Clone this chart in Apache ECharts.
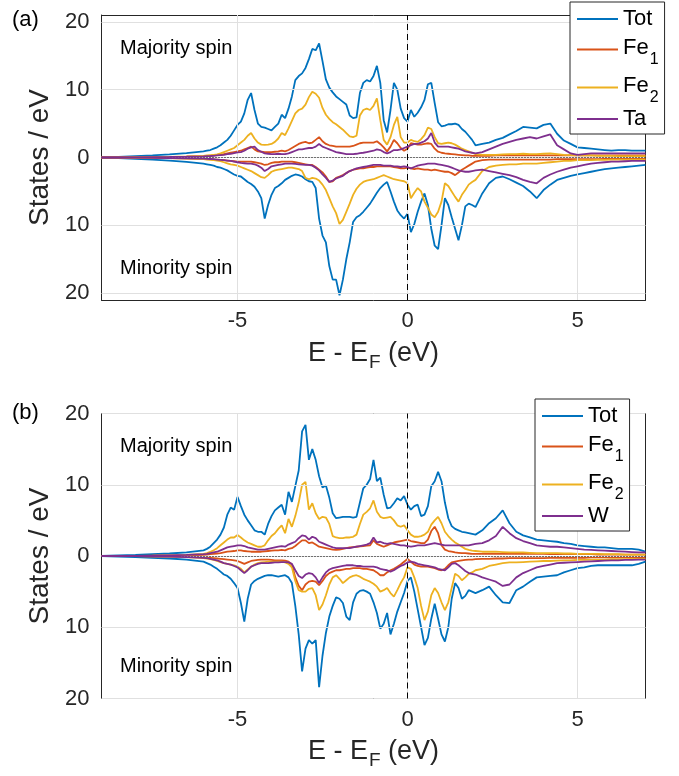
<!DOCTYPE html>
<html><head><meta charset="utf-8">
<script src="https://cdn.jsdelivr.net/npm/echarts@6/dist/echarts.min.js"></script>
<style>html,body{margin:0;padding:0;background:#fff}#c{width:679px;height:776px}</style>
</head><body><div id="c"></div>
<script>
// Energy grid (eV, relative to Fermi level)
const energy = [-9,-8.5,-8,-7.5,-7,-6.5,-6,
-5.9,-5.8,-5.7,-5.6,-5.5,-5.4,-5.3,-5.2,-5.1,-5.0,
-4.9,-4.8,-4.7,-4.6,-4.5,-4.4,-4.3,-4.2,-4.1,-4.0,
-3.9,-3.8,-3.7,-3.6,-3.5,-3.4,-3.3,-3.2,-3.1,-3.0,
-2.9,-2.8,-2.7,-2.6,-2.5,-2.4,-2.3,-2.2,-2.1,-2.0,
-1.9,-1.8,-1.7,-1.6,-1.5,-1.4,-1.3,-1.2,-1.1,-1.0,
-0.9,-0.8,-0.7,-0.6,-0.5,-0.4,-0.3,-0.2,-0.1,0.0,
0.1,0.2,0.3,0.4,0.5,0.6,0.7,0.8,0.9,1.0,
1.1,1.2,1.3,1.4,1.5,1.6,1.7,1.8,1.9,2.0,
2.2,2.4,2.6,2.8,3.0,3.2,3.4,3.6,3.8,4.0,4.2,4.4,4.6,4.8,5.0,5.2,5.4,5.6,5.8,6.0,6.2,6.4,6.6,6.8,7.0];
const xTicks = [-5, 0, 5];
const yTicks = [-20, -10, 0, 10, 20];

// ---- Panel (a): Fe-Fe-Ta ----
const aTotUp = [0,0.1,0.2,0.3,0.45,0.65,0.9,
1.0,1.1,1.3,1.5,1.8,2.2,2.6,3.2,4.0,4.8,
5.3,6.5,8.5,9.5,7.0,5.0,4.5,4.4,4.2,4.0,
4.5,5.0,6.3,5.8,7.2,9.0,11.4,12.0,12.4,13.2,
14.5,16.0,15.8,16.8,14.2,11.5,10.3,9.6,9.0,8.6,
8.2,7.8,6.2,5.8,5.9,9.5,11.0,11.4,11.2,12.0,
13.5,11.0,5.5,3.7,7.0,11.0,10.0,7.2,5.8,5.3,
7.0,6.0,6.6,7.4,8.5,10.8,11.0,8.0,5.2,4.6,
4.7,4.9,4.9,5.0,4.8,4.2,3.8,3.2,2.6,1.8,
2.0,2.2,2.6,2.9,3.4,3.9,4.5,4.4,4.3,4.8,5.0,3.5,2.5,2.0,1.5,1.4,1.3,1.2,1.1,1.0,1.1,1.1,1.0,1.0,1.0];
const aFe1Up = [0,0,0.02,0.05,0.08,0.12,0.2,
0.22,0.25,0.3,0.35,0.4,0.5,0.6,0.7,0.8,0.9,
1.0,1.2,1.4,1.6,1.2,0.9,0.85,0.8,0.8,0.8,
0.85,0.9,1.0,0.9,1.1,1.4,1.7,2.0,2.2,2.3,
2.1,2.2,2.6,3.0,2.4,2.0,1.8,1.7,1.6,1.6,
1.6,1.6,1.6,1.7,1.9,2.1,2.2,2.2,2.2,2.2,
2.4,2.0,1.5,0.9,1.6,2.6,2.1,1.4,1.0,1.3,
2.1,2.0,1.9,1.9,2.0,2.1,2.0,1.3,0.85,0.7,
0.6,0.55,0.5,0.45,0.4,0.35,0.3,0.3,0.25,0.25,
0.25,0.25,0.3,0.3,0.3,0.3,0.3,0.3,0.3,0.3,0.3,0.3,0.3,0.3,0.3,0.3,0.3,0.3,0.3,0.3,0.3,0.3,0.3,0.3,0.3];
const aFe2Up = [0,0,0.05,0.05,0.1,0.15,0.25,
0.3,0.35,0.4,0.45,0.6,0.8,1.0,1.2,1.4,1.8,
2.2,2.6,3.2,3.6,2.8,2.2,1.9,1.85,1.9,2.0,
2.3,2.8,3.6,3.3,4.3,5.4,6.5,7.0,7.2,7.8,
8.9,9.7,9.4,8.8,7.3,6.3,5.7,5.2,4.9,4.5,
4.1,3.6,3.1,3.0,3.2,6.2,7.0,7.2,7.0,7.6,
8.7,5.5,2.6,1.9,3.0,4.8,6.0,3.0,2.2,2.2,
2.6,2.4,2.3,2.7,3.3,4.4,4.2,3.0,2.1,2.0,
2.1,2.2,2.1,1.9,1.6,1.3,1.1,0.9,0.7,0.5,
0.4,0.4,0.4,0.45,0.5,0.5,0.55,0.5,0.5,0.55,0.6,0.5,0.4,0.35,0.3,0.3,0.3,0.25,0.25,0.25,0.2,0.2,0.2,0.2,0.2];
const aTaUp = [0,0,0.02,0.05,0.08,0.12,0.18,
0.2,0.22,0.25,0.3,0.35,0.4,0.5,0.55,0.65,0.75,
0.8,1.0,1.3,1.5,1.6,1.1,0.85,0.6,0.55,0.5,
0.5,0.55,0.5,0.5,0.6,0.8,1.0,1.2,1.2,1.3,
1.4,1.4,1.6,2.0,1.6,1.4,1.2,1.0,0.8,0.7,
0.6,0.5,0.5,0.5,0.55,0.65,0.7,0.8,0.9,1.0,
1.2,1.1,0.8,0.6,0.8,1.1,1.1,1.2,1.4,1.6,
1.8,2.0,2.0,2.2,2.4,2.8,3.6,2.2,1.6,1.6,
1.6,1.6,1.5,1.4,1.3,1.1,0.9,0.8,0.7,0.6,
0.8,1.2,1.6,2.0,2.3,2.6,2.8,3.0,2.8,3.1,3.4,1.8,1.2,0.6,0.4,0.5,0.6,0.6,0.6,0.6,0.6,0.6,0.6,0.6,0.6];
const aTotDn = [0,0.1,0.2,0.3,0.45,0.65,0.9,
1.0,1.1,1.2,1.4,1.5,1.7,1.9,2.2,2.5,2.7,
2.8,3.2,3.6,3.9,4.3,5.0,6.0,9.0,7.0,5.5,
4.5,4.2,3.8,3.3,3.0,2.7,2.5,2.6,2.8,3.2,
3.5,3.6,4.5,9.0,11.5,12.5,16.0,18.0,18.0,20.3,
18.0,15.0,12.5,9.5,8.8,8.5,8.0,7.4,6.8,6.0,
5.2,4.5,4.0,3.6,5.0,6.5,7.8,8.5,9.0,8.3,
11.0,9.8,8.0,6.5,5.3,7.0,10.5,13.0,13.5,10.0,
6.0,7.0,8.8,10.5,12.2,10.0,7.2,6.8,7.0,7.3,
5.3,3.8,3.0,2.8,3.2,3.7,4.2,5.0,6.0,4.8,4.0,3.3,3.0,2.7,2.5,2.3,2.1,1.9,1.7,1.6,1.5,1.4,1.3,1.2,1.1];
const aFe1Dn = [0,0,0.02,0.05,0.08,0.12,0.2,
0.22,0.25,0.28,0.3,0.35,0.4,0.45,0.5,0.55,0.6,
0.6,0.6,0.6,0.6,0.7,0.8,0.9,1.1,1.0,0.8,
0.7,0.7,0.6,0.6,0.6,0.6,0.7,0.8,0.9,1.0,
1.1,1.1,1.4,1.8,2.2,2.8,3.6,3.5,3.0,2.8,
2.6,2.3,2.0,1.8,1.7,1.6,1.6,1.5,1.4,1.4,
1.3,1.3,1.3,1.3,1.3,1.4,1.5,1.6,1.6,1.5,
1.6,1.7,1.6,1.7,1.8,1.8,1.9,1.8,1.9,2.0,
2.1,2.1,2.3,2.6,2.2,1.8,1.5,1.2,0.9,0.6,
0.4,0.3,0.3,0.3,0.3,0.3,0.3,0.3,0.3,0.3,0.3,0.25,0.25,0.25,0.25,0.25,0.25,0.25,0.2,0.2,0.2,0.2,0.2,0.2,0.2];
const aFe2Dn = [0,0,0.05,0.05,0.1,0.15,0.25,
0.3,0.35,0.4,0.45,0.55,0.7,0.85,1.0,1.1,1.2,
1.4,1.6,1.8,2.0,2.3,2.6,2.9,3.0,2.6,2.1,
1.9,1.8,1.7,1.6,1.5,1.5,1.6,1.7,2.0,3.0,
3.2,3.0,3.1,3.4,4.0,4.8,6.0,7.2,8.2,9.8,
9.2,8.0,6.8,5.5,4.6,4.0,3.6,3.4,3.3,3.2,
3.0,2.8,2.6,2.8,3.0,3.2,3.3,3.4,3.5,3.8,
6.0,5.2,4.5,5.0,6.5,7.4,8.4,8.8,8.0,6.5,
3.8,4.2,5.0,5.8,6.5,5.5,4.8,4.0,3.6,3.3,
2.0,1.4,1.2,1.1,1.0,1.0,0.9,0.9,0.9,0.8,0.7,0.6,0.5,0.5,0.4,0.4,0.4,0.35,0.35,0.3,0.3,0.3,0.3,0.3,0.3];
const aTaDn = [0,0,0.02,0.05,0.08,0.12,0.18,
0.2,0.22,0.25,0.3,0.35,0.4,0.45,0.5,0.6,0.7,
0.8,0.85,0.9,0.9,1.0,1.2,1.5,2.0,1.7,1.3,
1.2,1.1,1.0,0.9,0.9,0.9,0.95,1.0,1.05,1.1,
1.1,1.2,1.5,1.9,2.5,3.0,3.6,3.4,3.1,2.9,
2.7,2.3,2.0,1.8,1.6,1.5,1.4,1.3,1.2,1.1,
1.1,1.1,1.2,1.2,1.2,1.3,1.3,1.4,1.3,1.4,
1.6,1.4,1.2,1.1,1.0,0.9,0.9,0.9,1.0,1.1,
1.2,1.3,1.5,1.7,1.9,2.0,2.1,2.1,2.0,1.9,
1.8,2.0,2.2,2.4,2.6,2.9,3.3,3.6,3.8,3.0,2.5,2.1,1.8,1.5,1.3,1.1,0.9,0.8,0.7,0.6,0.6,0.55,0.5,0.5,0.5];

// ---- Panel (b): Fe-Fe-W ----
const bTotUp = [0,0.1,0.15,0.25,0.35,0.5,0.8,
1.0,1.3,1.8,2.3,3.0,4.0,5.8,6.8,6.5,8.3,
7.0,5.8,5.0,4.3,3.6,3.4,3.4,3.0,4.5,5.6,
6.4,6.8,7.2,5.8,9.0,7.6,9.8,12.0,17.5,18.4,
13.5,15.0,13.5,11.2,9.6,9.9,8.2,6.0,5.3,5.4,
5.5,5.5,5.5,5.4,5.5,7.5,9.5,10.0,10.8,13.5,
10.5,11.0,8.6,6.7,6.8,7.4,8.1,7.8,8.4,7.2,
6.5,7.0,7.2,5.6,5.8,7.0,9.8,10.5,11.8,10.5,
7.5,5.3,4.2,3.8,3.6,3.4,3.3,3.2,3.1,3.0,
3.6,4.6,5.3,6.4,4.6,3.4,2.9,2.6,2.3,2.2,2.1,2.0,1.8,1.7,1.5,1.4,1.3,1.2,1.2,1.1,1.0,1.0,1.0,0.9,0.6];
const bFe1Up = [0,0,0.02,0.04,0.06,0.1,0.15,
0.2,0.25,0.3,0.35,0.4,0.5,0.6,0.65,0.7,0.8,
0.8,0.7,0.65,0.6,0.6,0.6,0.6,0.65,0.7,0.75,
0.8,0.8,0.85,0.8,1.0,1.1,1.4,1.8,2.2,2.2,
1.8,1.9,1.6,1.3,1.2,1.1,1.0,0.9,0.85,0.9,
1.0,1.1,1.2,1.25,1.3,1.35,1.4,1.45,1.5,2.2,
1.7,1.5,1.3,1.5,1.7,1.9,2.0,2.1,2.2,2.3,
2.1,2.0,1.9,1.8,1.8,2.3,3.5,4.1,3.2,1.5,
0.9,0.7,0.6,0.5,0.45,0.4,0.4,0.35,0.3,0.3,
0.3,0.3,0.3,0.3,0.3,0.3,0.3,0.3,0.3,0.3,0.25,0.25,0.25,0.25,0.25,0.25,0.25,0.2,0.2,0.2,0.2,0.2,0.2,0.2,0.2];
const bFe2Up = [0,0,0.02,0.05,0.1,0.15,0.3,
0.4,0.6,0.8,1.1,1.5,1.9,2.3,2.6,2.6,2.95,
2.6,2.2,1.9,1.7,1.5,1.3,1.3,1.5,2.2,2.8,
3.2,3.8,4.3,3.2,5.2,4.1,5.6,7.5,10.0,10.4,
6.5,7.4,6.0,5.2,5.5,5.4,4.5,2.8,2.6,2.5,
2.5,2.6,2.6,2.7,3.0,4.5,5.8,6.2,6.7,7.8,
6.2,5.5,5.3,5.4,5.5,5.0,4.3,4.1,4.3,3.6,
3.0,2.7,2.7,2.8,3.0,3.4,4.4,5.0,5.5,4.6,
3.4,2.8,2.3,1.9,1.6,1.3,1.0,0.85,0.75,0.7,
0.6,0.6,0.6,0.55,0.5,0.5,0.5,0.45,0.4,0.4,0.4,0.4,0.35,0.35,0.3,0.3,0.3,0.3,0.25,0.25,0.25,0.2,0.2,0.2,0.2];
const bWUp = [0,0,0.02,0.05,0.1,0.15,0.25,
0.3,0.4,0.5,0.6,0.8,1.0,1.2,1.3,1.4,1.5,
1.5,1.4,1.2,1.1,1.0,0.9,0.9,0.9,1.0,1.1,
1.2,1.3,1.4,1.3,1.6,1.8,2.0,2.5,2.9,2.8,
2.3,2.7,2.5,2.0,1.8,1.6,1.4,1.2,1.1,1.1,
1.1,1.1,1.1,1.2,1.3,1.4,1.5,1.6,1.8,2.6,
1.9,2.0,1.8,1.7,1.8,1.7,1.6,1.5,1.5,1.4,
1.3,1.4,1.5,1.5,1.5,1.6,1.7,1.8,1.7,1.6,
1.5,1.5,1.5,1.5,1.5,1.5,1.5,1.5,1.6,1.7,
1.8,2.2,2.8,4.1,3.2,2.5,2.1,1.8,1.5,1.4,1.3,1.3,1.2,1.1,1.0,0.9,0.85,0.8,0.75,0.7,0.65,0.6,0.55,0.5,0.5];
const bTotDn = [0,0.1,0.15,0.25,0.35,0.5,0.8,
1.0,1.2,1.5,1.8,2.2,2.6,2.8,3.2,3.8,4.5,
6.6,9.2,6.0,4.0,3.5,3.2,3.0,2.8,2.7,2.7,
2.8,2.9,2.8,2.7,3.0,3.8,7.0,11.0,16.2,13.0,
11.8,12.3,11.8,18.4,14.0,10.8,8.5,7.0,5.8,6.0,
6.6,8.5,9.0,6.5,5.3,4.9,4.8,5.0,5.3,6.5,
8.0,10.2,9.5,8.0,11.0,9.5,7.8,6.5,5.2,3.5,
3.0,5.0,7.5,10.0,12.5,11.5,8.8,6.7,8.8,11.0,
12.0,10.0,6.0,3.8,4.5,6.0,5.6,4.8,5.0,5.2,
4.8,4.3,5.5,6.5,6.6,4.8,4.3,3.6,3.0,2.9,2.8,2.7,2.3,2.0,1.7,1.6,1.4,1.3,1.3,1.3,1.3,1.3,1.3,1.1,0.8];
const bFe1Dn = [0,0,0.02,0.04,0.06,0.1,0.15,
0.2,0.25,0.3,0.35,0.4,0.45,0.5,0.55,0.6,0.7,
0.9,1.1,0.9,0.7,0.6,0.55,0.5,0.5,0.5,0.55,
0.6,0.6,0.6,0.65,0.8,1.2,3.0,4.2,4.8,4.0,
3.6,3.5,3.6,4.1,3.5,2.8,2.4,2.2,2.0,2.0,
1.9,1.8,1.8,1.7,1.7,1.7,1.8,1.8,1.9,2.0,
2.3,2.7,2.7,2.3,2.0,1.8,1.5,1.2,0.8,0.4,
0.8,1.2,1.4,1.5,1.5,1.5,1.6,1.7,1.9,2.0,
1.8,1.3,0.9,0.8,0.7,0.6,0.55,0.5,0.5,0.45,
0.4,0.4,0.35,0.35,0.3,0.3,0.3,0.3,0.3,0.3,0.25,0.25,0.25,0.25,0.25,0.25,0.2,0.2,0.2,0.2,0.2,0.2,0.2,0.2,0.2];
const bFe2Dn = [0,0,0.02,0.05,0.1,0.15,0.3,
0.35,0.45,0.55,0.7,0.85,1.0,1.1,1.2,1.3,1.5,
1.8,2.3,1.9,1.5,1.2,1.0,0.9,0.85,0.8,0.8,
0.8,0.8,0.8,0.9,1.1,1.6,3.5,4.8,5.0,5.0,
4.6,4.5,5.5,7.6,6.8,5.5,4.0,3.0,2.7,3.2,
3.8,3.4,3.0,2.8,2.7,2.9,3.2,3.4,3.6,3.9,
4.3,5.0,4.8,4.5,5.2,5.7,4.8,3.8,3.0,1.6,
1.8,3.0,4.5,7.0,9.0,7.8,5.5,4.5,5.2,6.5,
7.6,6.5,4.5,2.5,2.8,3.4,3.0,2.5,2.3,2.0,
1.8,1.4,1.2,1.0,0.9,0.9,0.85,0.8,0.75,0.7,0.7,0.65,0.6,0.6,0.55,0.55,0.5,0.5,0.5,0.45,0.45,0.45,0.4,0.4,0.4];
const bWDn = [0,0,0.02,0.05,0.1,0.15,0.25,
0.3,0.4,0.5,0.6,0.8,1.0,1.1,1.2,1.4,1.6,
2.0,2.4,2.0,1.5,1.3,1.1,1.0,1.0,1.0,0.95,
0.9,0.9,0.85,0.85,0.9,1.1,2.0,2.8,3.1,2.6,
2.4,2.5,3.0,3.8,3.0,2.3,1.9,1.7,1.6,1.5,
1.4,1.3,1.3,1.3,1.4,1.4,1.5,1.5,1.5,1.5,
1.6,1.8,1.9,2.0,2.2,2.0,1.7,1.4,1.2,0.9,
0.8,0.9,1.1,1.2,1.3,1.4,1.5,1.6,1.8,1.9,
2.0,1.6,1.1,1.0,1.3,1.7,2.1,2.4,2.5,2.6,
3.0,3.3,3.6,4.2,4.0,3.0,2.4,2.0,1.6,1.4,1.2,1.0,0.95,0.9,0.85,0.8,0.75,0.7,0.65,0.6,0.6,0.55,0.55,0.5,0.5];

const namesA = ['Tot', 'Fe1', 'Fe2', 'Ta'];
const namesB = ['Tot', 'Fe1', 'Fe2', 'W'];
const colors = ['#0072BD', '#D95319', '#EDB120', '#7E2F8E'];

const FONT = '"Liberation Sans", Arial, Helvetica, sans-serif';
const AX = '#262626';

const panels = [
  { names: namesA, up: [aTotUp, aFe1Up, aFe2Up, aTaUp], dn: [aTotDn, aFe1Dn, aFe2Dn, aTaDn], top: 15, ymin: -21, ymax: 21 },
  { names: namesB, up: [bTotUp, bFe1Up, bFe2Up, bWUp], dn: [bTotDn, bFe1Dn, bFe2Dn, bWDn], top: 413.5, ymin: -20, ymax: 20 }
];

const grids = [], xAxes = [], yAxes = [], series = [];
panels.forEach((p, g) => {
  grids.push({ left: 101.5, top: p.top, width: 544, height: 285, containLabel: false });
  const tick = { show: true, inside: true, length: 5, lineStyle: { color: AX, width: 1 } };
  const line = { show: true, onZero: false, lineStyle: { color: AX, width: 1 } };
  xAxes.push({
    type: 'value', gridIndex: g, min: -9, max: 7, position: 'bottom',
    axisLine: line, axisTick: Object.assign({ customValues: xTicks }, tick),
    axisLabel: { customValues: xTicks, fontSize: 22, color: AX, fontFamily: FONT, margin: 10 },
    splitLine: { show: false },
    name: '{m|E - E}{s|F}{m| (eV)}', nameLocation: 'middle', nameGap: 40,
    nameTextStyle: { color: AX, fontFamily: FONT, fontSize: 27,
      rich: { m: { fontSize: 27, fontFamily: FONT, color: AX, lineHeight: 30, verticalAlign: 'top' },
              s: { fontSize: 19, fontFamily: FONT, color: AX, lineHeight: 19, padding: [13, 0, 0, 1], verticalAlign: 'top' } } }
  });
  xAxes.push({
    type: 'value', gridIndex: g, min: -9, max: 7, position: 'top',
    axisLine: line, axisTick: Object.assign({ customValues: xTicks }, tick),
    axisLabel: { show: false }, splitLine: { show: false }
  });
  yAxes.push({
    type: 'value', gridIndex: g, min: p.ymin, max: p.ymax, position: 'left',
    axisLine: line, axisTick: Object.assign({ customValues: yTicks }, tick),
    axisLabel: { customValues: yTicks, fontSize: 22, color: AX, fontFamily: FONT, margin: 12,
      formatter: v => String(Math.abs(v)) },
    splitLine: { show: false },
    name: 'States / eV', nameLocation: 'middle', nameGap: 42,
    nameTextStyle: { color: AX, fontFamily: FONT, fontSize: 28 }
  });
  yAxes.push({
    type: 'value', gridIndex: g, min: p.ymin, max: p.ymax, position: 'right',
    axisLine: line, axisTick: Object.assign({ customValues: yTicks }, tick),
    axisLabel: { show: false }, splitLine: { show: false }
  });
  const xi = g * 2, yi = g * 2;
  // grid lines
  series.push({
    type: 'line', xAxisIndex: xi, yAxisIndex: yi, data: [], symbol: 'none', silent: true, z: 0,
    markLine: { silent: true, symbol: 'none', animation: false, label: { show: false },
      lineStyle: { color: '#e0e0e0', width: 1, type: 'solid' },
      data: xTicks.map(v => ({ xAxis: v })).concat(yTicks.filter(v => v >= p.ymin && v <= p.ymax).map(v => ({ yAxis: v }))) }
  });
  p.names.forEach((n, k) => {
    [[p.up[k], 1], [p.dn[k], -1]].forEach(([vals, s]) => {
      series.push({
        type: 'line', name: n, xAxisIndex: xi, yAxisIndex: yi,
        data: energy.map((e, i) => [e, s * vals[i]]),
        symbol: 'none', showSymbol: false, smooth: false, z: 2 + k,
        lineStyle: { color: colors[k], width: 1.8 }, itemStyle: { color: colors[k] },
        emphasis: { disabled: true }
      });
    });
  });
  // reference lines at E_F and zero DOS
  series.push({
    type: 'line', xAxisIndex: xi, yAxisIndex: yi, data: [], symbol: 'none', silent: true, z: 10,
    markLine: { silent: true, symbol: 'none', animation: false, label: { show: false },
      data: [
        { xAxis: 0, lineStyle: { color: '#000', width: 1, type: [6, 4] } },
        { yAxis: 0, lineStyle: { color: '#000', width: 1, type: [1, 2] } }
      ] }
  });
});

const legendRich = {
  m: { fontSize: 22, fontFamily: FONT, color: '#000', lineHeight: 25, verticalAlign: 'middle' },
  f: { fontSize: 22, fontFamily: FONT, color: '#000', lineHeight: 35, padding: [4.5, 0, 0, 0], verticalAlign: 'top' },
  s: { fontSize: 16, fontFamily: FONT, color: '#000', lineHeight: 16, padding: [20, 0, 0, 1], verticalAlign: 'top' }
};
const legendFmt = n => (n === 'Fe1' ? '{f|Fe}{s|1}' : n === 'Fe2' ? '{f|Fe}{s|2}' : '{m|' + n + '}');
function mkLegend(names, left, top) {
  return {
    orient: 'vertical', left: left, top: top, data: names.map(n => ({ name: n, icon: 'rect' })),
    selectedMode: false, z: 50, zlevel: 0,
    itemWidth: 41, itemHeight: 2, itemGap: 2, padding: [6, 6, 4, 7],
    backgroundColor: '#fff', borderColor: AX, borderWidth: 1,
    textStyle: { fontSize: 22, fontFamily: FONT, color: '#000', rich: legendRich },
    formatter: legendFmt
  };
}

const txt = (x, y, t, size) => ({
  type: 'text', x: x, y: y, z: 100,
  style: { text: t, fontSize: size, fontFamily: FONT, fill: '#000', verticalAlign: 'middle', textVerticalAlign: 'middle' }
});

const chart = echarts.init(document.getElementById('c'), null, { renderer: 'canvas' });
chart.setOption({
  animation: false,
  backgroundColor: '#fff',
  grid: grids, xAxis: xAxes, yAxis: yAxes, series: series,
  legend: [mkLegend(namesA, 570, 2), mkLegend(namesB, 535, 399)],
  graphic: [
    txt(120, 48, 'Majority spin', 20), txt(120, 268, 'Minority spin', 20),
    txt(120, 446, 'Majority spin', 20), txt(120, 666, 'Minority spin', 20),
    txt(12, 20, '(a)', 22), txt(12, 413, '(b)', 22)
  ]
});
</script></body></html>
